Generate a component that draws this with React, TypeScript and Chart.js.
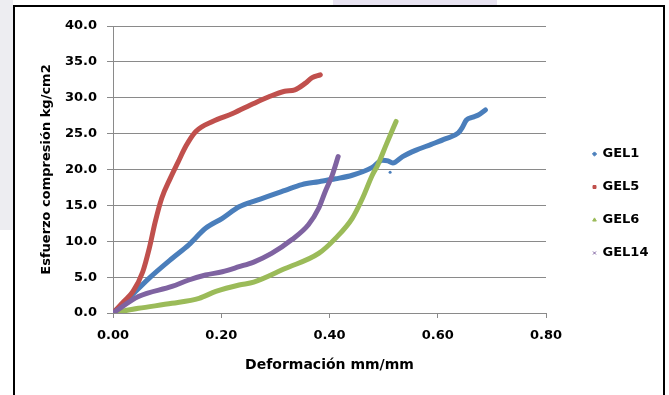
import { useEffect, useRef } from "react";
import { Chart, registerables } from "chart.js";

Chart.register(...registerables);

const seriesNames = ["GEL1", "GEL5", "GEL6", "GEL14"];
const seriesColors = ["#4A7EBB", "#C0504D", "#9BBB59", "#7F63A1"];
const markerStyles = ["rectRot", "rect", "triangle", "crossRot"];

const gel1X = [0, 0.029, 0.066, 0.109, 0.14, 0.171, 0.202, 0.233, 0.265, 0.318, 0.349, 0.38, 0.411, 0.442, 0.479, 0.498, 0.508, 0.517, 0.535, 0.56, 0.588, 0.615, 0.638, 0.645, 0.653, 0.665, 0.675, 0.688];
const gel1Y = [0, 2.05, 4.8, 7.6, 9.5, 11.8, 13.2, 14.8, 15.7, 17.1, 17.9, 18.3, 18.7, 19.2, 20.3, 21.3, 21.2, 20.9, 21.8, 22.7, 23.5, 24.3, 25.1, 25.8, 26.9, 27.3, 27.6, 28.3];

const gel1OutlierX = [0.512];
const gel1OutlierY = [19.6];

const gel5X = [0, 0.02, 0.037, 0.055, 0.067, 0.078, 0.09, 0.106, 0.12, 0.135, 0.153, 0.184, 0.221, 0.26, 0.287, 0.317, 0.336, 0.355, 0.368, 0.383];
const gel5Y = [0, 1.6, 3.0, 5.75, 9.0, 12.7, 16.0, 18.8, 21.0, 23.3, 25.3, 26.7, 27.8, 29.2, 30.1, 30.9, 31.1, 32.0, 32.8, 33.2];

const gel6X = [0, 0.047, 0.109, 0.159, 0.19, 0.233, 0.26, 0.318, 0.38, 0.411, 0.442, 0.461, 0.479, 0.489, 0.505, 0.523];
const gel6Y = [0, 0.65, 1.35, 2.05, 3.0, 3.9, 4.3, 6.2, 8.3, 10.4, 13.2, 16.0, 19.2, 20.6, 23.5, 26.7];

const gel14X = [0, 0.047, 0.109, 0.14, 0.171, 0.202, 0.233, 0.26, 0.293, 0.33, 0.361, 0.38, 0.392, 0.405, 0.416];
const gel14Y = [0, 2.3, 3.7, 4.6, 5.3, 5.75, 6.45, 7.1, 8.3, 10.2, 12.3, 14.6, 16.9, 19.2, 21.8];

const xTitle = "Deformación mm/mm";
const yTitle = "Esfuerzo compresión kg/cm2";

const FONT = "'DejaVu Sans', sans-serif";

const toPoints = (xs: number[], ys: number[]) => xs.map((x, i) => ({ x, y: ys[i] }));

const legendShift = {
  id: "legendShift",
  afterLayout(chart: any) {
    if (chart.legend) {
      chart.legend.left += 27;
      chart.legend.right += 27;
    }
  },
};

export default function App() {
  const ref = useRef<HTMLCanvasElement>(null);

  useEffect(() => {
    const allX = [gel1X, gel5X, gel6X, gel14X];
    const allY = [gel1Y, gel5Y, gel6Y, gel14Y];
    const orders = [4, 3, 2, 1];
    const datasets: any[] = seriesNames.map((name, i) => ({
      label: name,
      data: toPoints(allX[i], allY[i]),
      showLine: true,
      borderColor: seriesColors[i],
      backgroundColor: seriesColors[i],
      borderWidth: 5,
      pointRadius: 0,
      pointStyle: markerStyles[i],
      cubicInterpolationMode: "monotone",
      borderCapStyle: "round",
      borderJoinStyle: "round",
      order: orders[i],
    }));
    datasets.push({
      label: "GEL1 outlier",
      data: toPoints(gel1OutlierX, gel1OutlierY),
      showLine: false,
      borderColor: seriesColors[0],
      backgroundColor: seriesColors[0],
      pointRadius: 1.5,
      borderWidth: 0,
      order: 5,
    });

    const chart = new Chart(ref.current!, {
      type: "scatter",
      data: { datasets },
      plugins: [legendShift],
      options: {
        animation: false,
        responsive: false,
        layout: { padding: { top: 19, right: 4, left: 0, bottom: 14 } },
        plugins: {
          tooltip: { enabled: false },
          legend: {
            position: "right",
            align: "center",
            labels: {
              usePointStyle: true,
              boxWidth: 3,
              boxHeight: 3,
              padding: 20,
              color: "#000",
              font: { family: FONT, size: 13, weight: "bold" },
              generateLabels: () =>
                seriesNames.map((name, i) => ({
                  text: name,
                  fillStyle: seriesColors[i],
                  strokeStyle: seriesColors[i],
                  lineWidth: 1,
                  pointStyle: markerStyles[i],
                  hidden: false,
                  datasetIndex: i,
                  fontColor: "#000",
                })),
            },
          },
        },
        scales: {
          x: {
            type: "linear",
            min: 0,
            max: 0.8,
            afterFit: (s: any) => {
              s.height = 68;
              s.paddingRight = 117;
            },
            ticks: {
              stepSize: 0.2,
              padding: 10,
              color: "#000",
              font: { family: FONT, size: 13, weight: "bold" },
              callback: (v: any) => Number(v).toFixed(2),
            },
            grid: { drawOnChartArea: false, drawTicks: true, tickLength: 5, color: "#8a8a8a" },
            border: { color: "#8a8a8a", width: 1 },
            title: {
              display: true,
              text: xTitle,
              color: "#000",
              font: { family: FONT, size: 14, weight: "bold" },
              padding: { top: 0, bottom: 7.6 },
            },
          },
          y: {
            type: "linear",
            min: 0,
            max: 40,
            afterFit: (s: any) => {
              s.width = 98;
            },
            ticks: {
              stepSize: 5,
              padding: 10,
              color: "#000",
              font: { family: FONT, size: 13, weight: "bold" },
              callback: (v: any) => Number(v).toFixed(1),
            },
            grid: { color: "#8a8a8a", tickLength: 6, lineWidth: 1 },
            border: { color: "#8a8a8a", width: 1 },
            title: {
              display: true,
              text: yTitle,
              color: "#000",
              font: { family: FONT, size: 13, weight: "bold" },
              padding: { top: 24, bottom: 0 },
            },
          },
        },
      },
    });
    return () => chart.destroy();
  }, []);

  return (
    <div style={{ position: "absolute", left: 0, top: 0, width: 669, height: 395, overflow: "hidden", background: "#fff" }}>
      <div style={{ position: "absolute", left: 0, top: 0, width: 13, height: 230, background: "#ededf1" }} />
      <div style={{ position: "absolute", left: 333, top: 0, width: 164, height: 5, background: "#e8e3f1" }} />
      <div
        style={{
          position: "absolute",
          left: 13,
          top: 5,
          width: 652,
          height: 420,
          boxSizing: "border-box",
          border: "2px solid #000",
          background: "#fff",
        }}
      />
      <canvas ref={ref} width={648} height={388} style={{ position: "absolute", left: 15, top: 7 }} />
    </div>
  );
}
